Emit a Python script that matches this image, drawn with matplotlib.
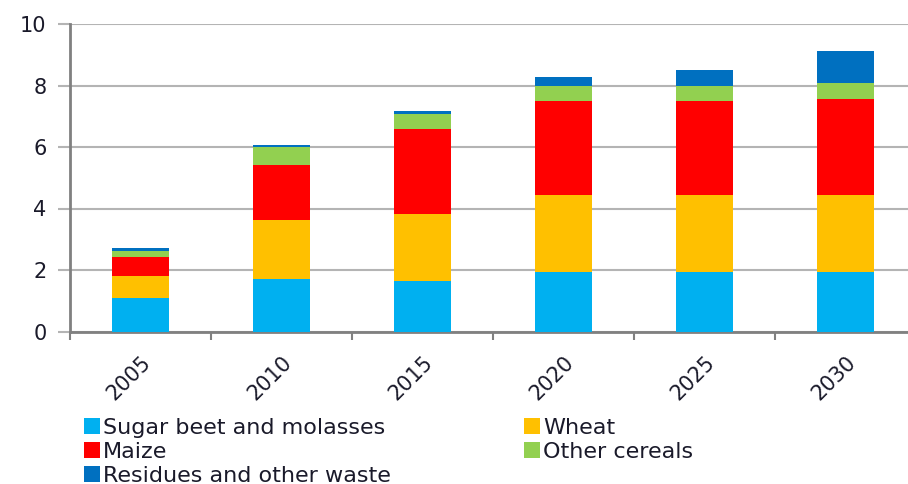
import matplotlib.pyplot as plt
import numpy as np

years = ['2005', '2010', '2015', '2020', '2025', '2030']
sugar = [1.08, 1.70, 1.64, 1.92, 1.92, 1.92]
wheat = [0.72, 1.91, 2.18, 2.53, 2.53, 2.53]
maize = [0.62, 1.80, 2.77, 3.06, 3.06, 3.11]
other = [0.21, 0.58, 0.49, 0.49, 0.49, 0.52]
resid = [0.08, 0.08, 0.10, 0.29, 0.50, 1.03]

labels = ['Sugar beet and molasses', 'Wheat', 'Maize', 'Other cereals',
          'Residues and other waste']
colors = ['#00B0F0', '#FFC000', '#FF0000', '#92D050', '#0070C0']
series = [sugar, wheat, maize, other, resid]

plt.rcParams['font.family'] = ['DejaVu Sans']
txt = '#1a1a2a'

fig = plt.figure(figsize=(9.08, 4.84), dpi=100)
ax = fig.add_axes([70/908, 152.5/484, 846/908, 307.5/484])

x = np.arange(len(years))
bottom = np.zeros(len(years))
bars = []
for vals, c, lab in zip(series, colors, labels):
    b = ax.bar(x, vals, width=0.4, bottom=bottom, color=c, label=lab, zorder=3)
    bars.append(b)
    bottom += np.array(vals)

ax.set_xlim(-0.5, 5.5)
ax.set_ylim(0, 10)
ax.set_yticks(np.arange(0, 11, 2))
ax.yaxis.grid(True, color='#b4b4b4', linewidth=1.5, zorder=0)
ax.tick_params(axis='y', length=9, width=1.5, color='#b4b4b4', pad=8,
               labelsize=15, labelcolor=txt)

# category labels centred, ticks on the boundaries
ax.set_xticks(np.arange(-0.5, 6, 1))
ax.set_xticklabels([])
ax.set_xticks(x, minor=True)
ax.set_xticklabels(years, minor=True, rotation=45, ha='right',
                   rotation_mode='anchor', fontsize=15, color=txt)
ax.tick_params(axis='x', which='major', length=6, width=1.5, color='#808080')
ax.tick_params(axis='x', which='minor', length=0, pad=15)

for s in ['top', 'right']:
    ax.spines[s].set_visible(False)
for s in ['left', 'bottom']:
    ax.spines[s].set_color('#808080')
    ax.spines[s].set_linewidth(2)

order = [0, 2, 4, 1, 3]
fig.legend([bars[i] for i in order], [labels[i] for i in order],
           loc='upper left', bbox_to_anchor=(84/908, 1 - 418/484), ncol=2,
           frameon=False, fontsize=16, labelcolor=txt,
           handlelength=0.7, handleheight=0.7, handletextpad=0.15,
           labelspacing=0.17, columnspacing=6.0, borderaxespad=0,
           borderpad=0)

fig.savefig('out.png', dpi=100)
